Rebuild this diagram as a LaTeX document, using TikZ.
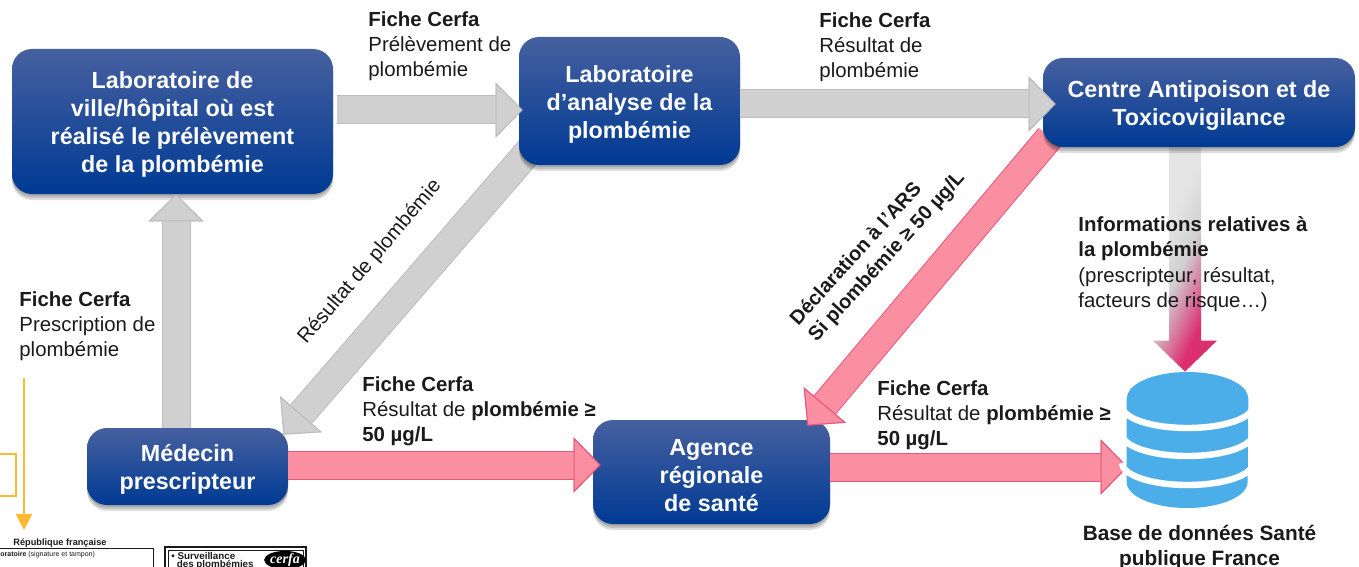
\documentclass[tikz,border=0pt]{standalone}
\usepackage{fontspec}
\setmainfont{Liberation Sans}
\newfontfamily\logofont{Liberation Serif}
\usetikzlibrary{arrows.meta,shadows,shapes.geometric}
\definecolor{bleuhaut}{HTML}{46609F}
\definecolor{bleubas}{HTML}{003A94}
\definecolor{grisfl}{HTML}{D0D0D0}
\definecolor{grisclair}{HTML}{E4E4E4}
\definecolor{grisbord}{HTML}{BDBDBD}
\definecolor{rosefl}{HTML}{F98FA1}
\definecolor{rosebord}{HTML}{E9567C}
\definecolor{rosefort}{HTML}{DC2F70}
\definecolor{bleubase}{HTML}{4BAEE8}
\definecolor{orangefl}{HTML}{FDB92F}
\definecolor{encre}{HTML}{1A1A1A}
\pgfdeclarelayer{devant}
\pgfsetlayers{main,devant}
\pgfdeclarehorizontalshading{grisrose}{100bp}{color(0bp)=(grisclair); color(38bp)=(grisclair); color(50bp)=(grisfl); color(68bp)=(rosefort); color(100bp)=(rosefort)}
\newcommand{\hautligne}{\rule{0pt}{11.5pt}}
\tikzset{
  ombre/.style={general shadow={shadow yshift=-#1,opacity=.13,fill=black}},
  boite/.style={shape=rectangle,rounded corners=10pt,inner sep=0pt,align=center,
    top color=bleuhaut,middle color=bleubas,bottom color=bleubas,text=white,
    font=\fontsize{11.65}{14}\selectfont\bfseries,
    ombre=3pt,ombre=2pt,ombre=1pt},
  fleche/.style 2 args={line width=13.5pt,draw=#1,
    preaction={draw=#2,line width=14.5pt},
    -{Triangle[length=13.5pt,width=27.5pt,fill=#1,color=#2,line width=.5pt]}},
  grisf/.style={fleche={grisfl}{grisbord}},
  rosef/.style={fleche={rosefl}{rosebord}},
  legende/.style={inner sep=0pt,anchor=north west,align=left,text=encre,
    font=\fontsize{10.2}{12.4}\selectfont},
}
\begin{document}
\begin{tikzpicture}[x=0.5pt,y=-0.5pt]
  \useasboundingbox (0,0) rectangle (1359,567);

  % boites
  \node[boite,minimum width=160.5pt,minimum height=72.5pt] (labville) at (172.5,121.5)
    {\hautligne Laboratoire de\\ville/hôpital où est\\réalisé le prélèvement\\de la plombémie};
  \node[boite,minimum width=100.5pt,minimum height=38.5pt] (medecin) at (187.5,466.5)
    {\hautligne Médecin\\prescripteur};
  \node[boite,minimum width=118.5pt,minimum height=52pt] (ars) at (711.5,472)
    {\hautligne Agence\\régionale\\de santé};
  \node[minimum width=60.5pt,minimum height=68pt,inner sep=0pt] (base) at (1187.5,440) {};

  \begin{pgfonlayer}{devant}
    \node[boite,minimum width=110.5pt,minimum height=64pt] (labanalyse) at (629.5,101)
      {\hautligne Laboratoire\\d’analyse de la\\plombémie};
    \node[boite,minimum width=156pt,minimum height=44.5pt] (capt) at (1199,102.5)
      {\hautligne Centre Antipoison et de\\Toxicovigilance};
    \draw[grisf] ([shift={(4,-11.5)}]labville.east) -- ([shift={(4,9)}]labanalyse.west);
    \draw[grisf] ([shift={(0,3)}]labanalyse.east) -- ([shift={(13,1.5)}]capt.west);
  \end{pgfonlayer}

  % fleches
  \draw[grisf] ([shift={(-11.5,0)}]medecin.north) -- ([shift={(3.5,0)}]labville.south);
  \draw[grisf] ([shift={(11,-15)}]labanalyse.south west) -- ([shift={(-5,7)}]medecin.north east);
  \draw[rosef] ([shift={(7,-10)}]capt.south west) -- ([shift={(-23,6)}]ars.north east);
  \draw[rosef] ([shift={(0,-1.5)}]medecin.east) -- ([shift={(8,-7)}]ars.west);
  \draw[rosef] ([shift={(0,-5)}]ars.east) -- ([shift={(1,27)}]base.west);

  % fleche degradee vers la base
  \shade[shading=grisrose,shading angle=-25] ([shift={(-30,0)}]capt.south) -- ([shift={(2,0)}]capt.south)
    -- ([shift={(13.5,-31)}]base.north) -- ([shift={(29.5,-31)}]base.north)
    -- ([shift={(-2.5,0)}]base.north) -- ([shift={(-34.5,-31)}]base.north)
    -- ([shift={(-18.5,-31)}]base.north) -- cycle;

  % base de donnees
  \fill[bleubase] (base.north west |- 0,398) -- (base.west |- 0,482)
    arc[start angle=180,end angle=0,x radius=60.5,y radius=26]
    -- (base.east |- 0,398) -- cycle;
  \foreach \yc in {406,434,463}
    \draw[white,line width=3.2pt] (1122,\yc) arc[start angle=180,end angle=0,x radius=65.5,y radius=22];
  \fill[bleubase] (1187.5,398) ellipse[x radius=60.5,y radius=26];

  % legendes
  \node[legende] (txtprel) at (368,11.5) {\textbf{Fiche Cerfa}\\Prélèvement de\\plombémie};
  \node[legende] (txtres) at (819,12.5) {\textbf{Fiche Cerfa}\\Résultat de\\plombémie};
  \node[legende] (txtpresc) at (19,291.5) {\textbf{Fiche Cerfa}\\Prescription de\\plombémie};
  \node[legende] (txtmed) at (362,376.5) {\textbf{Fiche Cerfa}\\Résultat de \textbf{plombémie ≥}\\\textbf{50 µg/L}};
  \node[legende] (txtars) at (877,380.5) {\textbf{Fiche Cerfa}\\Résultat de \textbf{plombémie ≥}\\\textbf{50 µg/L}};
  \node[legende,font=\fontsize{10.2}{12.7}\selectfont] (txtinfo) at (1078,216) {\textbf{Informations relatives à}\\\textbf{la plombémie}\\(prescripteur, résultat,\\facteurs de risque…)};
  \node[legende,anchor=center,rotate=49.5] (txtdiag) at (370,262) {Résultat de plombémie};
  \node[legende,anchor=center,align=left,rotate=47.8,font=\fontsize{10}{12.4}\selectfont\bfseries] (txtdecl) at (878,249)
    {Déclaration à l'ARS\\Si plombémie ≥ 50 µg/L};
  \node[legende,anchor=north,align=center,font=\fontsize{10.4}{12.4}\selectfont\bfseries] (txtbase) at (1199.5,525)
    {Base de données Santé\\publique France};

  % morceau du formulaire en bas a gauche
  \coordinate (oranged) at (24,378);
  \coordinate (orangef) at (24,530);
  \draw[orangefl,line width=1pt,-{Triangle[length=8pt,width=8pt]}] (oranged) -- (orangef);
  \draw[orangefl,line width=1pt] (0,453.5) -- (16,453.5) -- (16,495.5) -- (0,495.5);
  \node[inner sep=0pt,text=encre,font=\fontsize{4.6}{5}\selectfont\bfseries] (txtrep) at (60,543) {République française};
  \draw[encre,line width=.5pt] (0,548) -- (153,548) -- (153,567);
  \node[inner sep=0pt,anchor=west,text=encre,font=\fontsize{3.5}{4}\selectfont] (txtlab) at (0,554.5) {\textbf{oratoire} (signature et tampon)};
  \draw[encre,line width=.7pt] (165,567) -- (165,547) -- (306,547) -- (306,567);
  \draw[encre,line width=.25pt] (168,567) -- (168,550) -- (303,550) -- (303,567);
  \node[inner sep=0pt,anchor=north west,align=left,text=encre,font=\fontsize{4.9}{4.4}\selectfont\bfseries] (txtsurv) at (171,551.5) {• Surveillance\\\ \ des plombémies};
  \node[shape=ellipse,fill=black,text=white,inner sep=0pt,minimum width=17pt,minimum height=9pt,font=\logofont\fontsize{7}{7}\selectfont\bfseries\itshape] (cerfa) at (285,560) {cerfa};
\end{tikzpicture}
\end{document}
